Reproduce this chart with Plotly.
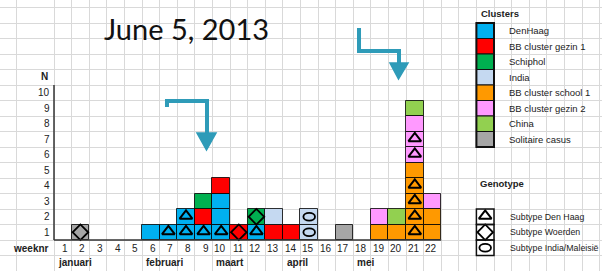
import plotly.graph_objects as go

# ---------------- data ----------------
weeks = list(range(1, 23))
week_labels = [str(w) for w in weeks]

clusters = ["DenHaag", "BB cluster gezin 1", "Schiphol", "India",
            "BB cluster school 1", "BB cluster gezin 2", "China", "Solitaire casus"]
cluster_colors = ["#00B0F0", "#FF0000", "#00B050", "#C5D9F1",
                  "#FF9900", "#FF99FF", "#92D050", "#A6A6A6"]

#                  1  2  3  4  5  6  7  8  9 10 11 12 13 14 15 16 17 18 19 20 21 22
denhaag        = [0, 0, 0, 0, 0, 1, 1, 2, 1, 3, 0, 1, 0, 0, 0, 0, 0, 0, 0, 0, 0, 0]
gezin1         = [0, 0, 0, 0, 0, 0, 0, 0, 1, 1, 1, 0, 1, 1, 0, 0, 0, 0, 0, 0, 0, 0]
schiphol       = [0, 0, 0, 0, 0, 0, 0, 0, 1, 0, 0, 1, 0, 0, 0, 0, 0, 0, 0, 0, 0, 0]
india          = [0, 0, 0, 0, 0, 0, 0, 0, 0, 0, 0, 0, 1, 0, 2, 0, 0, 0, 0, 0, 0, 0]
school1        = [0, 0, 0, 0, 0, 0, 0, 0, 0, 0, 0, 0, 0, 0, 0, 0, 0, 0, 1, 1, 5, 2]
gezin2         = [0, 0, 0, 0, 0, 0, 0, 0, 0, 0, 0, 0, 0, 0, 0, 0, 0, 0, 1, 0, 3, 1]
china          = [0, 0, 0, 0, 0, 0, 0, 0, 0, 0, 0, 0, 0, 0, 0, 0, 0, 0, 0, 1, 1, 0]
solitaire      = [0, 1, 0, 0, 0, 0, 0, 0, 0, 0, 0, 0, 0, 0, 0, 0, 1, 0, 0, 0, 0, 0]
cluster_counts = [denhaag, gezin1, schiphol, india, school1, gezin2, china, solitaire]

# genotype of the bottom cells of each cluster segment (counts per week)
subtypes = ["Subtype Den Haag", "Subtype Woerden", "Subtype India/Maleisië"]
# Den Haag (triangle)
tri_denhaag    = [0, 0, 0, 0, 0, 0, 1, 2, 1, 1, 0, 1, 0, 0, 0, 0, 0, 0, 0, 0, 0, 0]
tri_school1    = [0, 0, 0, 0, 0, 0, 0, 0, 0, 0, 0, 0, 0, 0, 0, 0, 0, 0, 0, 0, 4, 0]
tri_gezin2     = [0, 0, 0, 0, 0, 0, 0, 0, 0, 0, 0, 0, 0, 0, 0, 0, 0, 0, 0, 0, 2, 0]
# Woerden (diamond)
dia_gezin1     = [0, 0, 0, 0, 0, 0, 0, 0, 0, 0, 1, 0, 0, 0, 0, 0, 0, 0, 0, 0, 0, 0]
dia_schiphol   = [0, 0, 0, 0, 0, 0, 0, 0, 0, 0, 0, 1, 0, 0, 0, 0, 0, 0, 0, 0, 0, 0]
dia_solitaire  = [0, 1, 0, 0, 0, 0, 0, 0, 0, 0, 0, 0, 0, 0, 0, 0, 0, 0, 0, 0, 0, 0]
# India/Maleisie (ellipse)
ell_india      = [0, 0, 0, 0, 0, 0, 0, 0, 0, 0, 0, 0, 0, 0, 2, 0, 0, 0, 0, 0, 0, 0]

genotype_cells = {
    0: {"tri": tri_denhaag},
    1: {"dia": dia_gezin1},
    2: {"dia": dia_schiphol},
    3: {"ell": ell_india},
    4: {"tri": tri_school1},
    5: {"tri": tri_gezin2},
    7: {"dia": dia_solitaire},
}

y_ticks = list(range(1, 11))
months = ["januari", "februari", "maart", "april", "mei"]
month_start_week = [1, 6, 10, 14, 18]
title_text = "June 5, 2013"

# ---------------- geometry (sheet grid) ----------------
W, H = 602, 271
CW, RH = 17.6, 15.5      # px per column / row
X0, Y0 = 54, 240         # px of week-axis origin / baseline


def ux(p):
    return (p - X0) / CW


def uy(p):
    return (Y0 - p) / RH


FONT = "Liberation Sans, Arial, sans-serif"
TXT = "#222222"

fig = go.Figure()

sym_x = {"tri": [], "dia": []}
sym_y = {"tri": [], "dia": []}
ellipses = []
cell_x = [[] for _ in clusters]
cell_base = [[] for _ in clusters]
for wi, w in enumerate(weeks):
    level = 0
    for ci, counts in enumerate(cluster_counts):
        g = genotype_cells.get(ci, {})
        for j in range(counts[wi]):
            cell_x[ci].append(w - 0.5)
            cell_base[ci].append(level + j)
            for key, arr in g.items():
                if j < arr[wi]:
                    if key == "ell":
                        ellipses.append((w - 0.5, level + j + 0.5))
                    else:
                        sym_x[key].append(w - 0.5)
                        sym_y[key].append(level + j + 0.5)
        level += counts[wi]

for ci, name in enumerate(clusters):
    if not cell_x[ci]:
        continue
    fig.add_trace(go.Bar(
        x=cell_x[ci], y=[1] * len(cell_x[ci]), base=cell_base[ci],
        width=1, name=name, showlegend=False,
        marker=dict(color=cluster_colors[ci], line=dict(color="rgba(0,0,0,0.8)", width=1)),
        hoverinfo="skip"))

fig.add_trace(go.Scatter(
    x=sym_x["tri"], y=[v + 0.05 for v in sym_y["tri"]], mode="markers", showlegend=False,
    marker=dict(symbol="triangle-up-open", size=11, color="black", line=dict(width=2)),
    hoverinfo="skip"))
fig.add_trace(go.Scatter(
    x=sym_x["dia"], y=sym_y["dia"], mode="markers", showlegend=False,
    marker=dict(symbol="diamond-open", size=12, color="black", line=dict(width=1.8)),
    hoverinfo="skip"))

shapes = []
for (cx, cy) in ellipses:
    shapes.append(dict(type="circle", xref="x", yref="y",
                       x0=cx - 0.33, x1=cx + 0.33, y0=cy - 0.25, y1=cy + 0.25,
                       line=dict(color="black", width=1.8)))

# axes lines
shapes.append(dict(type="line", xref="x", yref="y", x0=0, x1=0, y0=0, y1=10,
                   line=dict(color="#333333", width=1.5)))
shapes.append(dict(type="line", xref="x", yref="y", x0=0, x1=len(weeks), y0=0, y1=0,
                   line=dict(color="#333333", width=1.5)))

annotations = []
for v in y_ticks:
    annotations.append(dict(x=-0.12, y=v - 0.5, xref="x", yref="y", text=str(v),
                            showarrow=False, xanchor="right", yanchor="middle",
                            font=dict(family=FONT, size=10, color=TXT)))
annotations.append(dict(x=-0.2, y=10.58, xref="x", yref="y", text="<b>N</b>",
                        showarrow=False, xanchor="right", yanchor="middle",
                        font=dict(family=FONT, size=10, color=TXT)))
for w, lab in zip(weeks, week_labels):
    annotations.append(dict(x=w - 0.1, y=-0.52, xref="x", yref="y", text=lab,
                            showarrow=False, xanchor="right", yanchor="middle",
                            font=dict(family=FONT, size=10, color=TXT)))
annotations.append(dict(x=-0.15, y=-0.52, xref="x", yref="y", text="<b>weeknr</b>",
                        showarrow=False, xanchor="right", yanchor="middle",
                        font=dict(family=FONT, size=10, color=TXT)))
for m, sw in zip(months, month_start_week):
    annotations.append(dict(x=sw - 1 + 0.1, y=-1.48, xref="x", yref="y", text="<b>" + m + "</b>",
                            showarrow=False, xanchor="left", yanchor="middle",
                            font=dict(family=FONT, size=10, color=TXT)))

annotations.append(dict(x=ux(186), y=uy(28), xref="x", yref="y", text=title_text,
                        showarrow=False, xanchor="center", yanchor="middle",
                        font=dict(family="Lato", size=29, color="#111111")))

# legend: clusters
LX = 24
annotations.append(dict(x=LX + 0.15, y=14.62, xref="x", yref="y", text="<b>Clusters</b>",
                        showarrow=False, xanchor="left", yanchor="middle",
                        font=dict(family=FONT, size=9.5, color=TXT)))
for i, (name, col) in enumerate(zip(clusters, cluster_colors)):
    top = 14 - i
    shapes.append(dict(type="rect", xref="x", yref="y", x0=LX, x1=LX + 1, y0=top - 1, y1=top,
                       fillcolor=col, line=dict(color="#111111", width=1)))
    annotations.append(dict(x=ux(507), y=top - 0.5, xref="x", yref="y", text=name,
                            showarrow=False, xanchor="left", yanchor="middle",
                            font=dict(family=FONT, size=9.5, color=TXT)))
shapes.append(dict(type="rect", xref="x", yref="y", x0=LX, x1=LX + 1, y0=14 - len(clusters), y1=14,
                   line=dict(color="#111111", width=2)))

# legend: genotype
annotations.append(dict(x=LX + 0.1, y=3.62, xref="x", yref="y", text="<b>Genotype</b>",
                        showarrow=False, xanchor="left", yanchor="middle",
                        font=dict(family=FONT, size=9.5, color=TXT)))
geno_rows = [1, 0, -1]
for i, (name, row) in enumerate(zip(subtypes, geno_rows)):
    shapes.append(dict(type="rect", xref="x", yref="y", x0=LX, x1=LX + 1, y0=row, y1=row + 1,
                       line=dict(color="#111111", width=1.5)))
    annotations.append(dict(x=ux(508), y=row + 0.5, xref="x", yref="y", text=name,
                            showarrow=False, xanchor="left", yanchor="middle",
                            font=dict(family=FONT, size=8.8, color=TXT)))
fig.add_trace(go.Scatter(
    x=[LX + 0.5], y=[geno_rows[0] + 0.55], mode="markers", showlegend=False,
    marker=dict(symbol="triangle-up-open", size=11, color="black", line=dict(width=2)),
    hoverinfo="skip"))
fig.add_trace(go.Scatter(
    x=[LX + 0.5], y=[geno_rows[1] + 0.5], mode="markers", showlegend=False,
    marker=dict(symbol="diamond-open", size=12, color="black", line=dict(width=1.8)),
    hoverinfo="skip"))
shapes.append(dict(type="circle", xref="x", yref="y",
                   x0=LX + 0.17, x1=LX + 0.83, y0=geno_rows[2] + 0.25, y1=geno_rows[2] + 0.75,
                   line=dict(color="black", width=1.8)))

# arrows (decoration, pixel-placed)
ARROW = "#2E9BB8"


def path(points):
    return "M " + " L ".join(f"{ux(a):.3f},{uy(b):.3f}" for a, b in points)


shapes.append(dict(type="path", xref="x", yref="y",
                   path=path([(167, 107), (167, 101), (207, 101), (207, 137)]),
                   line=dict(color=ARROW, width=4)))
shapes.append(dict(type="path", xref="x", yref="y",
                   path=path([(197, 133), (216, 133), (206.5, 150)]) + " Z",
                   fillcolor=ARROW, line=dict(color=ARROW, width=1.5)))
shapes.append(dict(type="path", xref="x", yref="y",
                   path=path([(359, 28), (359, 51), (399, 51), (399, 66)]),
                   line=dict(color=ARROW, width=4)))
shapes.append(dict(type="path", xref="x", yref="y",
                   path=path([(390, 63), (408, 63), (398.5, 79)]) + " Z",
                   fillcolor=ARROW, line=dict(color=ARROW, width=1.5)))

grid_x = [ux(16)] + list(range(0, 32))
grid_y = list(range(-1, 16))

fig.update_layout(
    width=W, height=H, autosize=False,
    margin=dict(l=0, r=0, t=0, b=0),
    paper_bgcolor="white", plot_bgcolor="white",
    barmode="overlay", bargap=0,
    shapes=shapes, annotations=annotations,
    xaxis=dict(range=[ux(0), ux(W)], tickvals=grid_x, showticklabels=False,
               showgrid=True, gridcolor="#D9D9D9", gridwidth=1, zeroline=False,
               ticks="", fixedrange=True),
    yaxis=dict(range=[uy(H), uy(0)], tickvals=grid_y, showticklabels=False,
               showgrid=True, gridcolor="#D9D9D9", gridwidth=1, zeroline=False,
               ticks="", fixedrange=True),
)

fig.write_html("out.html", config={"displayModeBar": False},
               post_script="document.body.style.margin='0';document.body.style.padding='0';"
                           "document.body.style.overflow='hidden';")
